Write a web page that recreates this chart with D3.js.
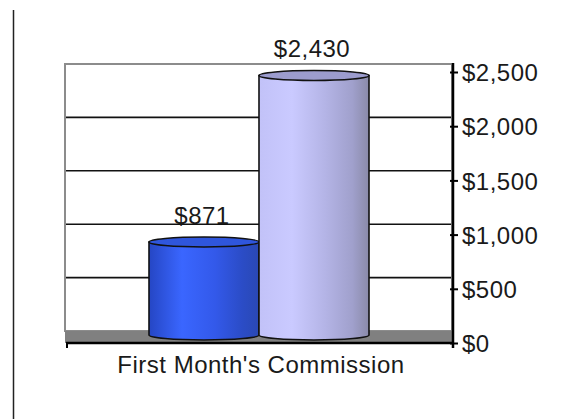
<!DOCTYPE html>
<html>
<head>
<meta charset="utf-8">
<script src="https://cdn.jsdelivr.net/npm/d3@7"></script>
<style>
  body { margin: 0; background: #fff; }
  svg { display: block; }
</style>
</head>
<body>
<div id="chart"></div>
<script>
const categories = ["First Month's Commission"];
const seriesNames = ["Series A", "Series B"];
const seriesValues = [871, 2430];
const tickValues = [0, 500, 1000, 1500, 2000, 2500];

const width = 571;
const height = 419;
const font = "'Liberation Sans', Arial, sans-serif";
const fontSize = 24;
const letterSpacing = 0.5;

const seriesStyles = [
  { stops: ["#2546c4", "#3a66ff", "#3359ea", "#2b4cc6", "#2a48b4"], top: "#2f56dc" },
  { stops: ["#c2c2f8", "#cacaff", "#b4b4e6", "#a0a0cc", "#8a8aa8"], top: "#9c9cce" },
];

const svg = d3.select("#chart")
  .append("svg")
  .attr("width", width)
  .attr("height", height);

// left border line of the page
svg.append("line")
  .attr("x1", 13.5).attr("x2", 13.5)
  .attr("y1", 10).attr("y2", height)
  .attr("stroke", "#222").attr("stroke-width", 1.5);

const plot = { left: 65, right: 453 };

// front axis scale, back wall scale, bar scale (3D depth offsets)
const yAxisScale = d3.scaleLinear().domain([0, 2500]).range([343, 72]);
const yWall = d3.scaleLinear().domain([0, 2500]).range([331, 64]);
const yBar = d3.scaleLinear().domain([0, 2500]).range([335, 68]);

const x0 = d3.scaleBand()
  .domain(categories)
  .range([plot.left, plot.right]);

const x1 = d3.scaleBand()
  .domain(seriesNames)
  .range([x0(categories[0]) + 84, x0(categories[0]) + 304]);

// back wall
svg.append("rect")
  .attr("x", plot.left)
  .attr("y", yWall(2500))
  .attr("width", plot.right - 1 - plot.left)
  .attr("height", yWall(0) - yWall(2500))
  .attr("fill", "#fff")
  .attr("stroke", "#8c8c8c")
  .attr("stroke-width", 2);

// gridlines
svg.append("g")
  .selectAll("line")
  .data(tickValues.filter(d => d > 0 && d < 2500))
  .join("line")
  .attr("x1", plot.left + 1)
  .attr("x2", plot.right - 2)
  .attr("y1", d => yWall(d))
  .attr("y2", d => yWall(d))
  .attr("stroke", "#111")
  .attr("stroke-width", 1.6);

// floor
svg.append("rect")
  .attr("x", plot.left)
  .attr("y", yWall(0))
  .attr("width", plot.right - plot.left)
  .attr("height", yAxisScale(0) - yWall(0))
  .attr("fill", "#808080");

// gradients
const defs = svg.append("defs");
seriesStyles.forEach((s, i) => {
  const g = defs.append("linearGradient")
    .attr("id", "grad" + i)
    .attr("x1", "0%").attr("x2", "100%")
    .attr("y1", "0%").attr("y2", "0%");
  const offsets = [0, 0.3, 0.6, 0.85, 1];
  s.stops.forEach((c, j) => {
    g.append("stop").attr("offset", offsets[j]).attr("stop-color", c);
  });
});

// cylinders
const ry = 5;
const bars = svg.append("g")
  .selectAll("g")
  .data(seriesValues)
  .join("g");

bars.append("path")
  .attr("d", (d, i) => {
    const xl = x1(seriesNames[i]);
    const xr = xl + x1.bandwidth();
    const rx = x1.bandwidth() / 2;
    const top = yBar(d);
    const bot = yBar(0);
    return `M${xl},${top} L${xl},${bot} A${rx},${ry} 0 0 0 ${xr},${bot} L${xr},${top} Z`;
  })
  .attr("fill", (d, i) => `url(#grad${i})`)
  .attr("stroke", "#111")
  .attr("stroke-width", 1.6);

bars.append("ellipse")
  .attr("cx", (d, i) => x1(seriesNames[i]) + x1.bandwidth() / 2)
  .attr("cy", d => yBar(d))
  .attr("rx", x1.bandwidth() / 2)
  .attr("ry", ry)
  .attr("fill", (d, i) => seriesStyles[i].top)
  .attr("stroke", "#111")
  .attr("stroke-width", 1.6);

// value labels
bars.append("text")
  .attr("x", (d, i) => x1(seriesNames[i]) + x1.bandwidth() / 2 - 2)
  .attr("y", d => yBar(d) - 18)
  .attr("text-anchor", "middle")
  .attr("font-family", font)
  .attr("font-size", fontSize)
  .attr("letter-spacing", letterSpacing)
  .attr("fill", "#1a1a1a")
  .text(d => d3.format("$,")(d));

// x axis line
svg.append("line")
  .attr("x1", plot.left + 1).attr("x2", plot.right + 1)
  .attr("y1", yAxisScale(0)).attr("y2", yAxisScale(0))
  .attr("stroke", "#000").attr("stroke-width", 2.5);

svg.append("line")
  .attr("x1", plot.left + 2).attr("x2", plot.left + 2)
  .attr("y1", yAxisScale(0)).attr("y2", yAxisScale(0) + 5)
  .attr("stroke", "#000").attr("stroke-width", 2);

// category label
svg.append("text")
  .attr("x", x0(categories[0]) + x0.bandwidth() / 2 + 2)
  .attr("y", 373)
  .attr("text-anchor", "middle")
  .attr("font-family", font)
  .attr("font-size", fontSize)
  .attr("letter-spacing", letterSpacing)
  .attr("fill", "#1a1a1a")
  .text(categories[0]);

// right value axis
const yAxis = d3.axisRight(yAxisScale)
  .tickValues(tickValues)
  .tickFormat(d3.format("$,"))
  .tickSize(5)
  .tickPadding(4)
  .tickSizeOuter(0);

const axisG = svg.append("g")
  .attr("transform", `translate(${plot.right},0)`)
  .call(yAxis);

axisG.select(".domain")
  .attr("d", `M0,${yWall(2500) - 1}V${yAxisScale(0) + 5}`)
  .attr("stroke", "#000")
  .attr("stroke-width", 2.5);

axisG.selectAll(".tick line")
  .attr("x1", -3)
  .attr("stroke", "#000")
  .attr("stroke-width", 2);

axisG.selectAll(".tick text")
  .attr("font-family", font)
  .attr("font-size", fontSize)
  .attr("letter-spacing", letterSpacing)
  .attr("fill", "#1a1a1a")
  .attr("dy", "0.36em");
</script>
</body>
</html>
